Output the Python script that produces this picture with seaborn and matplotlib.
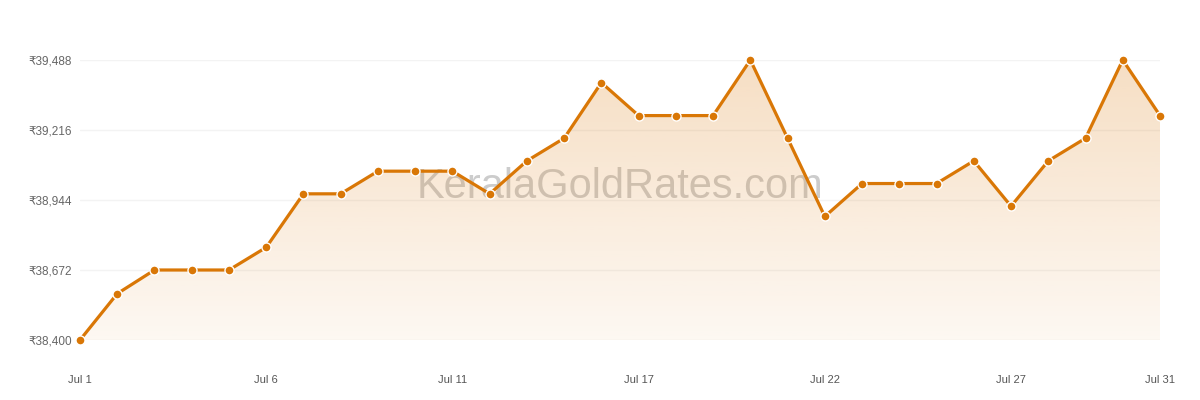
import matplotlib
matplotlib.use("Agg")
import matplotlib.pyplot as plt
import numpy as np
import pandas as pd
import seaborn as sns

# data (one missing day between Jul 11 and Jul 17)
days = [1, 2, 3, 4, 5, 6, 7, 8, 9, 10, 11, 12, 13, 14, 15,
        17, 18, 19, 20, 21, 22, 23, 24, 25, 26, 27, 28, 29, 30, 31]
rates = [38400, 38580, 38672, 38672, 38672, 38760, 38968, 38968, 39056, 39056,
         39056, 38968, 39096, 39184, 39400, 39272, 39272, 39272, 39488, 39184,
         38880, 39008, 39008, 39008, 39096, 38920, 39096, 39184, 39488, 39272]
y_ticks = [38400, 38672, 38944, 39216, 39488]
tick_days = [1, 6, 11, 17, 22, 27, 31]

orange = "#D97706"

df = pd.DataFrame({"idx": range(len(days)), "day": days, "rate": rates})

sns.set_style("white")
plt.rcParams["font.family"] = ["Liberation Sans", "DejaVu Sans"]

fig = plt.figure(figsize=(12, 4), dpi=100)
ax = fig.add_axes([80 / 1200, 60 / 400, 1080 / 1200, 280 / 400])

# watermark behind everything
ax.text(0.5, 0.545, "KeralaGoldRates.com", transform=ax.transAxes,
        ha="center", va="center", fontsize=30, color="#8f8f8f", alpha=0.45,
        zorder=0)

# gradient area under the line
poly = ax.fill_between(df["idx"], df["rate"], y_ticks[0], color="none", lw=0)
grad = np.linspace(0.28, 0.06, 256).reshape(-1, 1)
rgba = np.zeros((256, 1, 4))
rgba[..., :3] = matplotlib.colors.to_rgb("#E08A2A")
rgba[..., 3] = grad
img = ax.imshow(rgba, aspect="auto", extent=[0, len(days) - 1, y_ticks[0], y_ticks[-1]],
                origin="upper", zorder=1)
img.set_clip_path(poly.get_paths()[0], transform=ax.transData)

sns.lineplot(data=df, x="idx", y="rate", ax=ax, color=orange, linewidth=2.3,
             marker="o", markersize=6.5, markerfacecolor=orange,
             markeredgecolor="white", markeredgewidth=1.0, zorder=3,
             clip_on=False)

ax.set_xlim(0, len(days) - 1)
ax.set_ylim(y_ticks[0], y_ticks[-1])
ax.set_yticks(y_ticks)
ax.set_yticklabels([f"₹{v:,}" for v in y_ticks])
ax.set_xticks([days.index(d) for d in tick_days])
ax.set_xticklabels([f"Jul {d}" for d in tick_days])
ax.tick_params(axis="y", labelsize=8.5, colors="#666666", length=0, pad=6)
ax.tick_params(axis="x", labelsize=8, colors="#555555", length=0, pad=25)
ax.grid(axis="y", color="#f3f3f3", linewidth=1, zorder=0)
ax.set_axisbelow(True)
ax.set_xlabel("")
ax.set_ylabel("")
for s in ax.spines.values():
    s.set_visible(False)

fig.savefig("out.png", dpi=100)
